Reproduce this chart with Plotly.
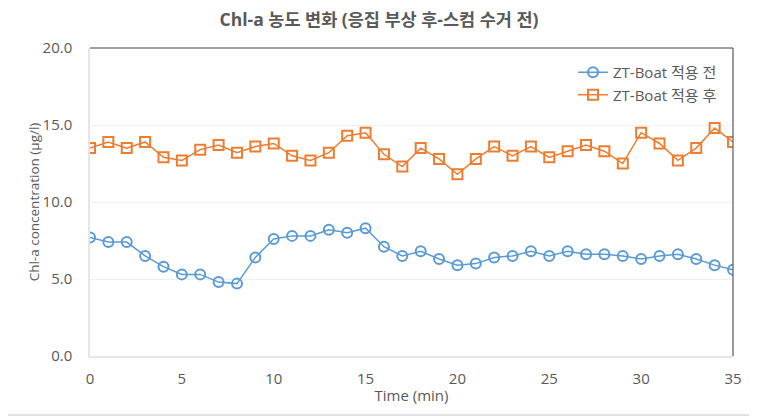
import plotly.graph_objects as go

time_min = list(range(36))
before_vals = [7.7, 7.4, 7.4, 6.5, 5.8, 5.3, 5.3, 4.8, 4.7, 6.4,
               7.6, 7.8, 7.8, 8.2, 8.0, 8.3, 7.1, 6.5, 6.8, 6.3,
               5.9, 6.0, 6.4, 6.5, 6.8, 6.5, 6.8, 6.6, 6.6, 6.5,
               6.3, 6.5, 6.6, 6.3, 5.9, 5.6]
after_vals = [13.5, 13.9, 13.5, 13.9, 12.9, 12.7, 13.4, 13.7, 13.2, 13.6,
              13.8, 13.0, 12.7, 13.2, 14.3, 14.5, 13.1, 12.3, 13.5, 12.8,
              11.8, 12.8, 13.6, 13.0, 13.6, 12.9, 13.3, 13.7, 13.3, 12.5,
              14.5, 13.8, 12.7, 13.5, 14.8, 13.9]
series_names = ["ZT-Boat 적용 전", "ZT-Boat 적용 후"]
x_ticks = [0, 5, 10, 15, 20, 25, 30, 35]
y_ticks = [0, 5, 10, 15, 20]
y_tick_labels = ["0.0", "5.0", "10.0", "15.0", "20.0"]

FONT = "Open Sans, Noto Sans CJK KR, sans-serif"
GRAY = "#595959"

# the page body adds an 8px margin, so the figure is 8px smaller and offset
W, H = 749, 409
L, R, T, B = 82, 24, 40, 61
PW, PH = W - L - R, H - T - B

fig = go.Figure()
fig.add_trace(go.Scatter(
    x=time_min, y=before_vals, name=series_names[0], mode="lines+markers",
    line=dict(color="#5B9BD5", width=1.5),
    marker=dict(symbol="circle-open", size=10, color="#5B9BD5", line=dict(width=2)),
))
fig.add_trace(go.Scatter(
    x=time_min, y=after_vals, name=series_names[1], mode="lines+markers",
    line=dict(color="#ED7D31", width=1.5),
    marker=dict(symbol="square-open", size=10, color="#ED7D31", line=dict(width=2)),
))

fig.update_layout(
    width=W, height=H,
    margin=dict(l=L, r=R, t=T, b=B, autoexpand=False),
    paper_bgcolor="white", plot_bgcolor="white",
    font=dict(family=FONT, color=GRAY, size=14),
    title=dict(text="<b>Chl-a 농도 변화 (응집 부상 후-스컴 수거 전)</b>",
               x=(379 - 8) / W, xanchor="center", y=1 - 12 / H, yanchor="middle",
               font=dict(size=17.5, color=GRAY, family=FONT)),
    legend=dict(x=(722 - 8 - L) / PW, y=1 - 8 / PH, xanchor="right", yanchor="top",
                bgcolor="rgba(0,0,0,0)", font=dict(size=15, color=GRAY),
                itemwidth=30, tracegroupgap=0),
    showlegend=True,
    shapes=[
        dict(type="line", xref="x domain", yref="y domain", x0=0, x1=1, y0=1, y1=1,
             line=dict(color="#808080", width=1.5)),
        dict(type="line", xref="x domain", yref="y domain", x0=1, x1=1, y0=0, y1=1,
             line=dict(color="#595959", width=1.2)),
        dict(type="line", xref="paper", yref="paper",
             x0=1 + (R - 2) / PW, x1=1 + (R - 2) / PW, y0=-B / PH, y1=1 + T / PH,
             line=dict(color="#D9D9D9", width=1.5)),
        dict(type="line", xref="paper", yref="paper",
             x0=-L / PW, x1=1 + R / PW, y0=-(B - 2) / PH, y1=-(B - 2) / PH,
             line=dict(color="#D9D9D9", width=1.5)),
    ],
)
fig.update_xaxes(
    range=[0, 35], tickvals=x_ticks, showgrid=False, zeroline=False,
    showline=True, linecolor="#E6E6E6", linewidth=1.5,
    ticks="", ticklabelstandoff=8, automargin=False,
    title=dict(text="Time (min)", font=dict(size=15, color=GRAY), standoff=4),
    tickfont=dict(size=15, color=GRAY),
)
fig.update_yaxes(
    range=[0, 20], tickvals=y_ticks, ticktext=y_tick_labels,
    showgrid=True, gridcolor="#EFEFEF", gridwidth=1, zeroline=False,
    showline=True, linecolor="#E6E6E6", linewidth=1.5,
    ticks="", ticklabelstandoff=13, automargin=False,
    title=dict(text="Chl-a concentration (μg/l)", font=dict(size=13.5, color=GRAY), standoff=0),
    tickfont=dict(size=15, color=GRAY),
)

fig.write_html("out.html")
